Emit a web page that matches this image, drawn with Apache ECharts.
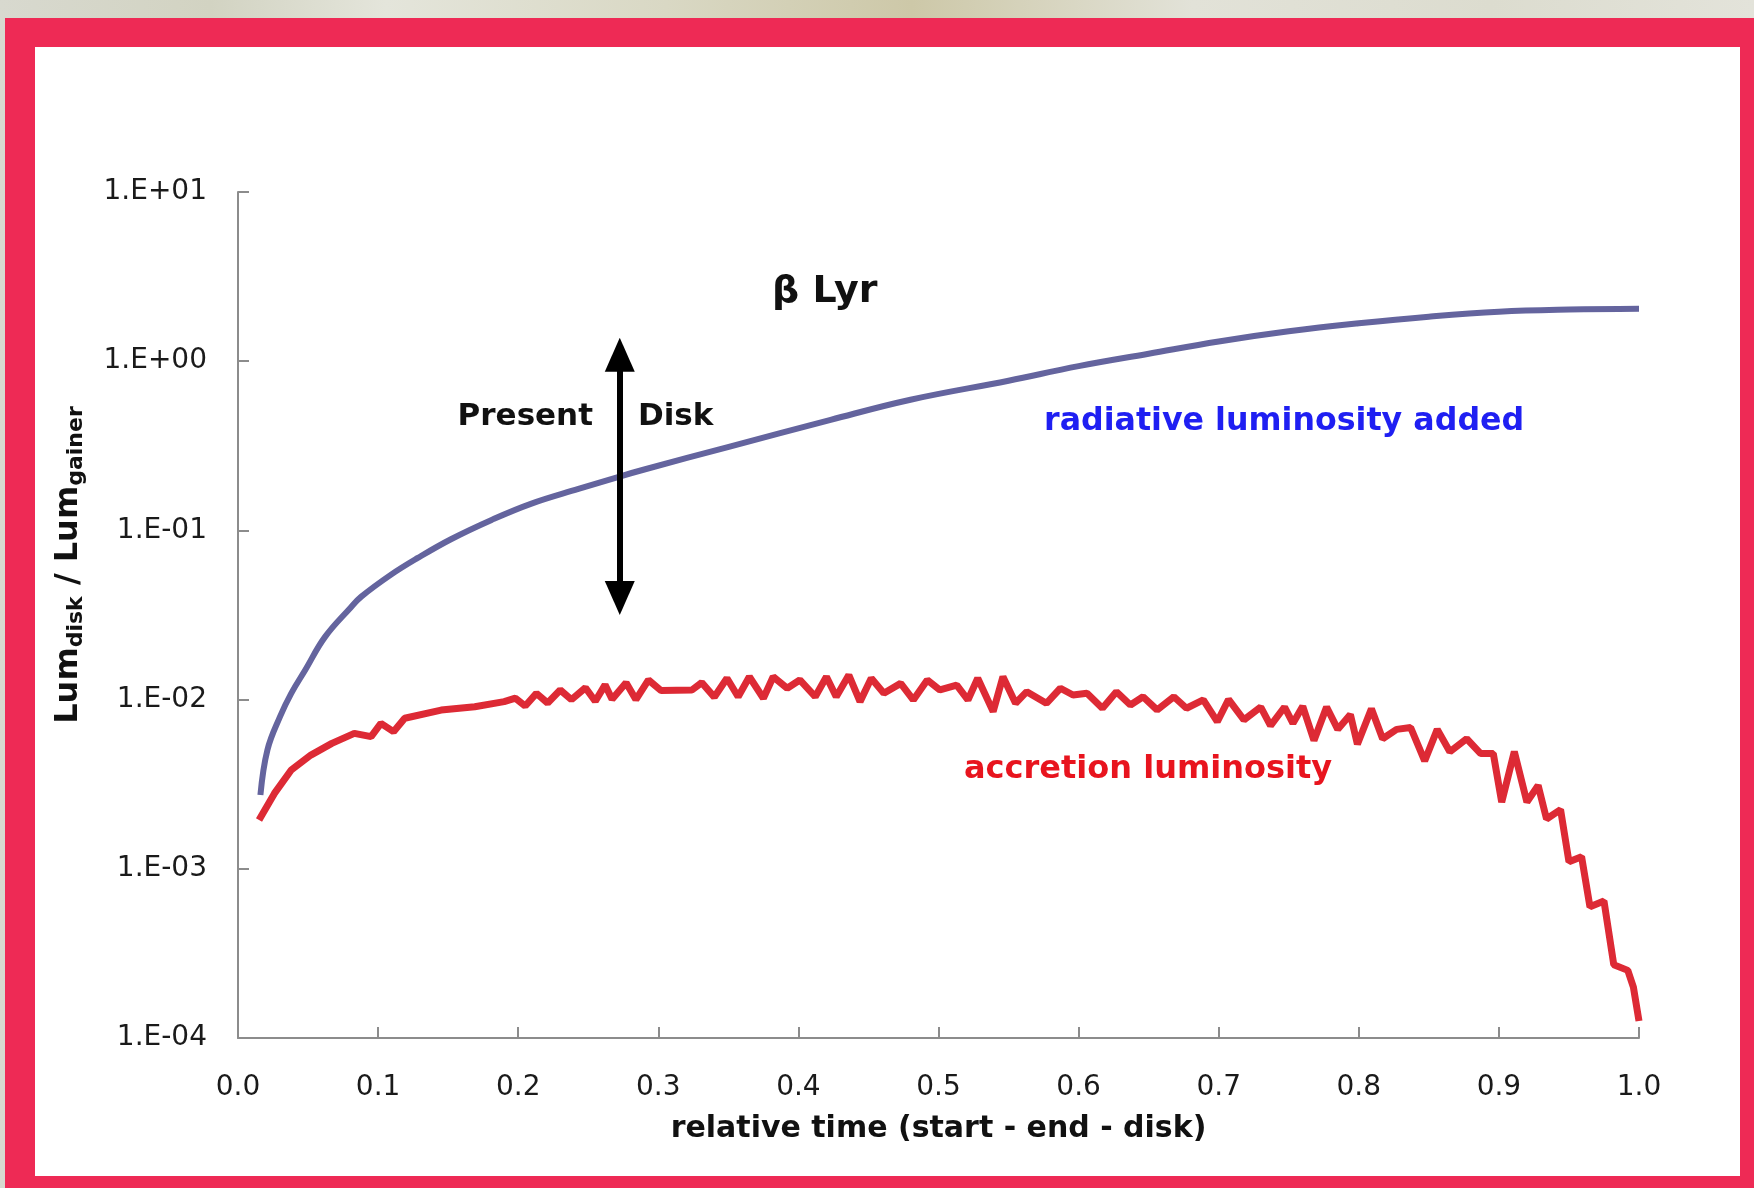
<!DOCTYPE html>
<html>
<head>
<meta charset="utf-8">
<script src="https://cdn.jsdelivr.net/npm/echarts@6/dist/echarts.min.js"></script>
<style>
  html, body { margin: 0; padding: 0; }
  body {
    width: 1754px; height: 1188px; position: relative; overflow: hidden;
    background: linear-gradient(90deg, #d8d9cf 0%, #d2d3c2 12%, #e4e5db 22%, #d9d8c4 38%, #cdc8a8 52%, #e2e2d8 68%, #dcdccf 85%, #e3e3da 100%);
  }
  #frame { position: absolute; left: 5px; top: 18px; right: 0; bottom: 0; background: #ee2a55; }
  #paper { position: absolute; left: 35px; top: 47px; width: 1705px; height: 1129px; background: #ffffff; }
  #chart { position: absolute; left: 0; top: 0; width: 1754px; height: 1188px; }
</style>
</head>
<body>
<div id="frame"></div>
<div id="paper"></div>
<div id="chart"></div>
<script>
// relative time (start - end - disk)
const blueTime = [0.016, 0.021, 0.030, 0.038, 0.048, 0.062, 0.080, 0.088, 0.109, 0.128,
  0.152, 0.181, 0.209, 0.243, 0.273, 0.290, 0.351, 0.423, 0.480,
  0.550, 0.600, 0.650, 0.700, 0.750, 0.800, 0.850, 0.900, 0.950, 1.000];
// radiative luminosity added
const blueLum = [0.00273, 0.00504, 0.00793, 0.01089, 0.01496, 0.0234, 0.0347, 0.0406, 0.0546, 0.0685,
  0.0887, 0.1153, 0.1435, 0.1758, 0.2089, 0.229, 0.313, 0.450, 0.592,
  0.767, 0.935, 1.107, 1.309, 1.503, 1.675, 1.832, 1.959, 2.018, 2.042];

const redTime = [0.015, 0.026, 0.038, 0.052, 0.067, 0.083, 0.095, 0.102, 0.111, 0.119,
  0.145, 0.169, 0.190, 0.198, 0.205, 0.213, 0.221, 0.230, 0.238, 0.248,
  0.255, 0.262, 0.267, 0.277, 0.284, 0.293, 0.302, 0.324, 0.331, 0.340,
  0.349, 0.357, 0.365, 0.375, 0.382, 0.392, 0.401, 0.412, 0.420, 0.427,
  0.436, 0.444, 0.452, 0.461, 0.473, 0.482, 0.492, 0.501, 0.513, 0.521,
  0.528, 0.539, 0.546, 0.555, 0.563, 0.577, 0.587, 0.596, 0.606, 0.617,
  0.627, 0.637, 0.646, 0.656, 0.668, 0.677, 0.689, 0.699, 0.707, 0.718,
  0.730, 0.737, 0.747, 0.753, 0.760, 0.768, 0.777, 0.785, 0.794, 0.799,
  0.809, 0.817, 0.827, 0.837, 0.847, 0.856, 0.865, 0.877, 0.887, 0.896,
  0.902, 0.911, 0.920, 0.928, 0.934, 0.944, 0.950, 0.959, 0.965, 0.975,
  0.982, 0.992, 0.996, 1.000];
// accretion luminosity
const redLum = [0.00194, 0.00279, 0.00384, 0.00470, 0.00551, 0.00632, 0.00604, 0.00724, 0.00646, 0.00776,
  0.00867, 0.00908, 0.00973, 0.01019, 0.00916, 0.01089, 0.00955, 0.01140, 0.01000, 0.01175,
  0.00977, 0.01222, 0.01005, 0.01259, 0.01000, 0.01306, 0.01130, 0.01140, 0.01259, 0.01035,
  0.01337, 0.01040, 0.01365, 0.01019, 0.01365, 0.01167, 0.01306, 0.01040, 0.01365, 0.01040,
  0.01396, 0.00973, 0.01337, 0.01089, 0.01247, 0.00995, 0.01306, 0.01140, 0.01219, 0.00995,
  0.01337, 0.00849, 0.01365, 0.00951, 0.01114, 0.00951, 0.01167, 0.01064, 0.01089, 0.00889,
  0.01114, 0.00929, 0.01040, 0.00869, 0.01040, 0.00889, 0.00995, 0.00740, 0.01002, 0.00759,
  0.00904, 0.00702, 0.00904, 0.00724, 0.00912, 0.00573, 0.00904, 0.00667, 0.00817, 0.00545,
  0.00883, 0.00587, 0.00667, 0.00684, 0.00434, 0.00667, 0.00492, 0.00587, 0.00480, 0.00480,
  0.00248, 0.00492, 0.00248, 0.00311, 0.00197, 0.00224, 0.00110, 0.00118, 0.000596, 0.000646,
  0.000271, 0.000251, 0.000200, 0.000126];

// "present disk" arrow: x position and top/bottom values
const presentTime = 0.2725;
const presentRange = [1.09, 0.0399];

const font = "'DejaVu Sans', sans-serif";

const chart = echarts.init(document.getElementById('chart'), null, { renderer: 'canvas' });

const expLabel = function (v) {
  const e = Math.round(Math.log10(v));
  return '1.E' + (e < 0 ? '-' : '+') + String(Math.abs(e)).padStart(2, '0');
};

chart.setOption({
  animation: false,
  backgroundColor: 'transparent',
  grid: { left: 238, right: 115, top: 192, bottom: 150 },
  xAxis: {
    type: 'value',
    min: 0, max: 1, interval: 0.1,
    name: 'relative time (start - end - disk)',
    nameLocation: 'middle',
    nameGap: 76,
    nameTextStyle: { fontFamily: font, fontWeight: 'bold', fontSize: 30, color: '#111' },
    axisLine: { lineStyle: { color: '#8c8c8c', width: 2 } },
    axisTick: { inside: true, length: 11, lineStyle: { color: '#8c8c8c', width: 2 } },
    axisLabel: { margin: 36, fontFamily: font, fontSize: 28, color: '#1a1a1a',
      formatter: v => v.toFixed(1) },
    splitLine: { show: false }
  },
  yAxis: {
    type: 'log',
    logBase: 10,
    min: 0.0001, max: 10,
    splitNumber: 5,
    name: '{m|Lum}{s|disk}{m| / Lum}{s|gainer}',
    nameLocation: 'middle',
    nameRotate: 90,
    nameGap: 150,
    nameTextStyle: {
      padding: [0, 0, 0, 100],
      rich: {
        m: { fontFamily: font, fontWeight: 'bold', fontSize: 32, lineHeight: 38, color: '#111' },
        s: { fontFamily: font, fontWeight: 'bold', fontSize: 22, lineHeight: 24, padding: [14, 0, 0, 0], color: '#111' }
      }
    },
    axisLine: { show: true, lineStyle: { color: '#8c8c8c', width: 2 } },
    axisTick: { show: true, inside: true, length: 11, lineStyle: { color: '#8c8c8c', width: 2 } },
    axisLabel: { margin: 31, fontFamily: font, fontSize: 28, color: '#1a1a1a', formatter: expLabel },
    splitLine: { show: false },
    minorTick: { show: false }
  },
  series: [
    {
      name: 'radiative luminosity added',
      type: 'line',
      data: blueTime.map((t, i) => [t, blueLum[i]]),
      showSymbol: false,
      smooth: 0.4,
      lineStyle: { color: '#64649e', width: 6 },
      z: 3,
      markLine: {
        silent: true,
        symbol: ['triangle', 'triangle'],
        symbolSize: [30, 34],
        label: { show: false },
        lineStyle: { color: '#000000', width: 6, type: 'solid' },
        emphasis: { disabled: true },
        data: [[{ coord: [presentTime, presentRange[0]] }, { coord: [presentTime, presentRange[1]] }]]
      }
    },
    {
      name: 'accretion luminosity',
      type: 'line',
      data: redTime.map((t, i) => [t, redLum[i]]),
      showSymbol: false,
      lineStyle: { color: '#dd2a35', width: 7 },
      z: 2
    }
  ],
  graphic: [
    { type: 'text', x: 772, y: 292, style: { text: 'β Lyr', font: `bold 38px ${font}`, fill: '#111', align: 'left', verticalAlign: 'middle' } },
    { type: 'text', x: 593, y: 417, style: { text: 'Present', font: `bold 31px ${font}`, fill: '#111', align: 'right', verticalAlign: 'middle' } },
    { type: 'text', x: 638, y: 417, style: { text: 'Disk', font: `bold 31px ${font}`, fill: '#111', align: 'left', verticalAlign: 'middle' } },
    { type: 'text', x: 1044, y: 422, style: { text: 'radiative luminosity added', font: `bold 31.7px ${font}`, fill: '#1f1ff2', align: 'left', verticalAlign: 'middle' } },
    { type: 'text', x: 964, y: 770, style: { text: 'accretion luminosity', font: `bold 32px ${font}`, fill: '#e8141e', align: 'left', verticalAlign: 'middle' } }
  ]
});
</script>
</body>
</html>
